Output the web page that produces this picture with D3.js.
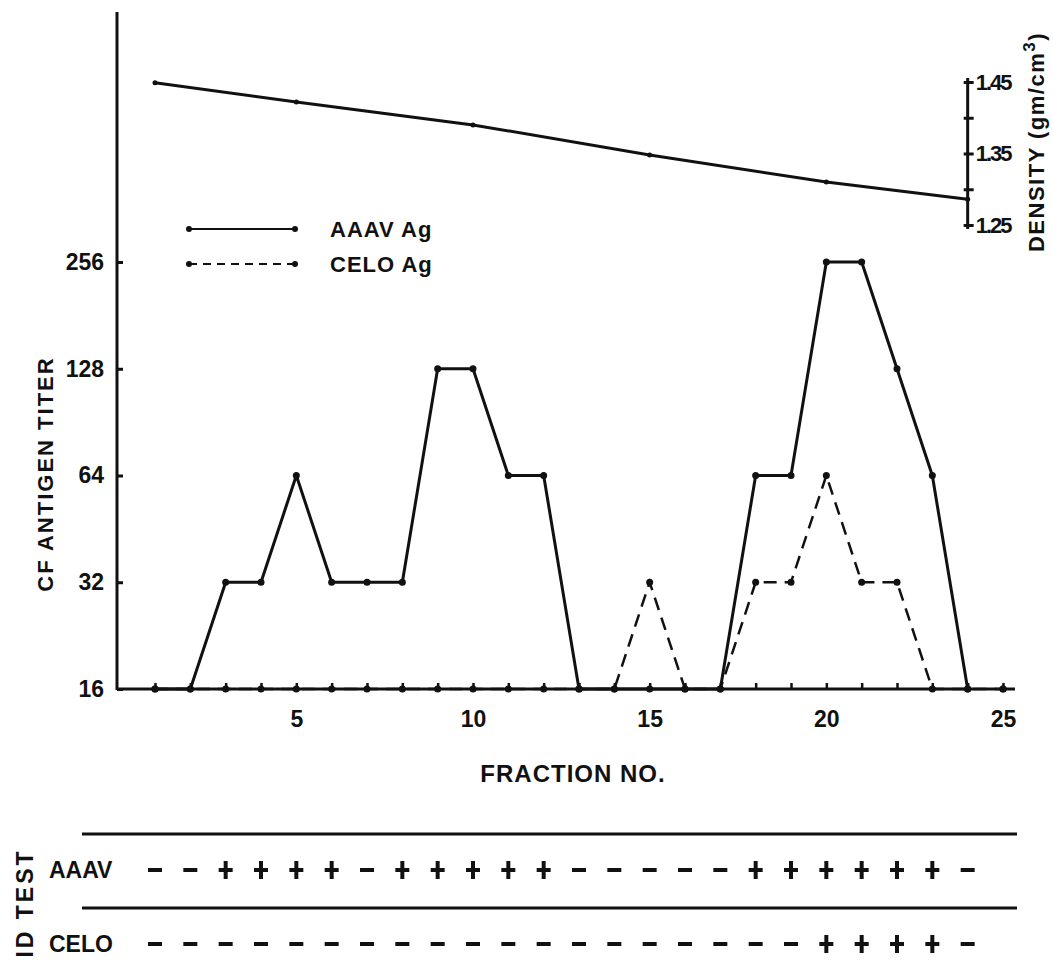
<!DOCTYPE html>
<html>
<head>
<meta charset="utf-8">
<script src="https://cdn.jsdelivr.net/npm/d3@7"></script>
<style>
  body { margin: 0; background: #fff; }
  svg { display: block; }
  text { font-family: "Liberation Sans", Arial, sans-serif; font-weight: bold; fill: #111; }
</style>
</head>
<body>
<svg id="svg1" width="1053" height="974"></svg>
<script>
var width = 1053;
var height = 974;

// fractions 1..25
var fractions = d3.range(1, 26);
var aaavTiter = [16,16,32,32,64,32,32,32,128,128,64,64,16,16,16,16,16,64,64,256,256,128,64,16,16];
var celoTiter = [16,16,16,16,16,16,16,16,16,16,16,16,16,16,32,16,16,32,32,64,32,32,16,16,16];
var titerTicks = [16, 32, 64, 128, 256];
var fractionLabels = [5, 10, 15, 20, 25];

// density gradient
var densityFractions = [1, 5, 10, 15, 20, 24];
var densityValues = [1.449, 1.422, 1.390, 1.348, 1.310, 1.286];
var densityTicks = [1.25, 1.30, 1.35, 1.40, 1.45];
var densityLabels = ['1.25', '', '1.35', '', '1.45'];

// ID test rows (fractions 1..24)
var aaavTest = ['-','-','+','+','+','+','-','+','+','+','+','+','-','-','-','-','-','+','+','+','+','+','+','-'];
var celoTest = ['-','-','-','-','-','-','-','-','-','-','-','-','-','-','-','-','-','-','-','+','+','+','+','-'];

var svg1 = d3.select('#svg1');

var x = d3.scaleLinear().domain([1, 25]).range([155, 1003]);
var y = d3.scaleLog().base(2).domain([16, 256]).range([689, 262]);
var yD = d3.scaleLinear().domain([1.25, 1.45]).range([225, 82]);

var axisLeftX = 117;
var baseY = y(16);

//left axis, drawn long up to the top
svg1.append('line')
    .attr('x1', axisLeftX).attr('x2', axisLeftX)
    .attr('y1', 12).attr('y2', baseY + 1)
    .attr('stroke', '#111').attr('stroke-width', 3);

var gLeft = svg1.append('g')
    .attr('transform', 'translate(' + axisLeftX + ',0)')
    .call(d3.axisLeft(y).tickValues(titerTicks).tickFormat(d3.format('d')).tickSize(-6).tickPadding(13));
gLeft.select('.domain').remove();
gLeft.selectAll('line').attr('stroke', '#111').attr('stroke-width', 3);
gLeft.selectAll('text').attr('font-size', 23).style('font-family', '"Liberation Sans", Arial, sans-serif').style('font-weight', 'bold');

//baseline
svg1.append('line')
    .attr('x1', axisLeftX).attr('x2', 1015)
    .attr('y1', baseY).attr('y2', baseY)
    .attr('stroke', '#111').attr('stroke-width', 3);

var gBottom = svg1.append('g')
    .attr('transform', 'translate(0,' + baseY + ')')
    .call(d3.axisBottom(x).tickValues(fractions).tickSize(-6).tickPadding(22)
        .tickFormat(function(d){ return fractionLabels.indexOf(d) >= 0 ? d : ''; }));
gBottom.select('.domain').remove();
gBottom.selectAll('line').attr('stroke', '#111').attr('stroke-width', 2.5);
gBottom.selectAll('text').attr('font-size', 23).style('font-family', '"Liberation Sans", Arial, sans-serif').style('font-weight', 'bold');

svg1.append('text')
    .attr('x', 573).attr('y', 782)
    .attr('text-anchor', 'middle')
    .attr('font-size', 24)
    .attr('letter-spacing', 1)
    .text('FRACTION NO.');

svg1.append('text')
    .attr('transform', 'translate(53,' + 474 + ') rotate(-90)')
    .attr('text-anchor', 'middle')
    .attr('font-size', 22)
    .attr('letter-spacing', 2)
    .text('CF ANTIGEN TITER');

//density axis on the right
var densX = x(24);
svg1.append('line')
    .attr('x1', densX).attr('x2', densX)
    .attr('y1', 78).attr('y2', 229)
    .attr('stroke', '#111').attr('stroke-width', 3);

var gRight = svg1.append('g')
    .attr('transform', 'translate(' + densX + ',0)')
    .call(d3.axisRight(yD).tickValues(densityTicks).tickSize(6).tickPadding(2)
        .tickFormat(function(d, i){ return densityLabels[i]; }));
gRight.select('.domain').remove();
gRight.selectAll('line').attr('stroke', '#111').attr('stroke-width', 3).attr('x1', -4);
gRight.selectAll('text').attr('font-size', 22).style('font-family', '"Liberation Sans", Arial, sans-serif').style('font-weight', 'bold').attr('letter-spacing', -2);

svg1.append('text')
    .attr('transform', 'translate(1044,' + 142 + ') rotate(-90)')
    .attr('text-anchor', 'middle')
    .attr('font-size', 22)
    .attr('letter-spacing', 1.5)
    .html('DENSITY (gm/cm<tspan dy="-9" font-size="17">3</tspan><tspan dy="9">)</tspan>');

var densityData = densityFractions.map(function(f, i){ return {f: f, v: densityValues[i]}; });

svg1.append('path')
    .datum(densityData)
    .attr('fill', 'none')
    .attr('stroke', '#111')
    .attr('stroke-width', 3)
    .attr('d', d3.line()
        .x(function(d){ return x(d.f); })
        .y(function(d){ return yD(d.v); }));

svg1.selectAll('.densDot')
    .data(densityData)
    .enter()
    .append('circle')
    .attr('class', 'densDot')
    .attr('cx', function(d){ return x(d.f); })
    .attr('cy', function(d){ return yD(d.v); })
    .attr('r', 2.5)
    .attr('fill', '#111');

// titer lines
var titerLine = d3.line()
    .x(function(d){ return x(d.f); })
    .y(function(d){ return y(d.v); });

var aaavData = fractions.map(function(f, i){ return {f: f, v: aaavTiter[i]}; });
var celoData = fractions.map(function(f, i){ return {f: f, v: celoTiter[i]}; });

svg1.append('path')
    .datum(celoData)
    .attr('fill', 'none')
    .attr('stroke', '#111')
    .attr('stroke-width', 2.5)
    .attr('stroke-dasharray', '13,8')
    .attr('d', titerLine);

svg1.append('path')
    .datum(aaavData.slice(0, 24))
    .attr('fill', 'none')
    .attr('stroke', '#111')
    .attr('stroke-width', 3)
    .attr('stroke-linejoin', 'round')
    .attr('d', titerLine);

svg1.selectAll('.celoDot')
    .data(celoData)
    .enter()
    .append('circle')
    .attr('class', 'celoDot')
    .attr('cx', function(d){ return x(d.f); })
    .attr('cy', function(d){ return y(d.v); })
    .attr('r', 3.5)
    .attr('fill', '#111');

svg1.selectAll('.aaavDot')
    .data(aaavData)
    .enter()
    .append('circle')
    .attr('class', 'aaavDot')
    .attr('cx', function(d){ return x(d.f); })
    .attr('cy', function(d){ return y(d.v); })
    .attr('r', 3.5)
    .attr('fill', '#111');

// legend
var legend = [
    {name: 'AAAV Ag', dash: null, y: 229},
    {name: 'CELO Ag', dash: '8,6', y: 264}
];
var lg = svg1.selectAll('.legend')
    .data(legend)
    .enter()
    .append('g')
    .attr('class', 'legend')
    .attr('transform', function(d){ return 'translate(0,' + d.y + ')'; });
lg.append('line')
    .attr('x1', 189).attr('x2', 295)
    .attr('stroke', '#111')
    .attr('stroke-width', 2)
    .attr('stroke-dasharray', function(d){ return d.dash; });
lg.append('circle').attr('cx', 189).attr('r', 3).attr('fill', '#111');
lg.append('circle').attr('cx', 295).attr('r', 3).attr('fill', '#111');
lg.append('text')
    .attr('x', 330).attr('y', 8)
    .attr('font-size', 22)
    .attr('letter-spacing', 1)
    .text(function(d){ return d.name; });

// ID test table
[834, 908].forEach(function(ly){
    svg1.append('line')
        .attr('x1', 82).attr('x2', 1017)
        .attr('y1', ly).attr('y2', ly)
        .attr('stroke', '#111').attr('stroke-width', 3);
});

svg1.append('text')
    .attr('transform', 'translate(33,903) rotate(-90)')
    .attr('text-anchor', 'middle')
    .attr('font-size', 23)
    .attr('letter-spacing', 3)
    .text('ID TEST');

var rows = [
    {name: 'AAAV', vals: aaavTest, y: 870},
    {name: 'CELO', vals: celoTest, y: 944}
];

rows.forEach(function(r){
    svg1.append('text')
        .attr('x', 49).attr('y', r.y + 8)
        .attr('font-size', 23)
        .text(r.name);
    var g = svg1.append('g').attr('transform', 'translate(0,' + r.y + ')');
    g.selectAll('.h')
        .data(r.vals)
        .enter()
        .append('line')
        .attr('x1', function(d, i){ return x(i + 1) - 7; })
        .attr('x2', function(d, i){ return x(i + 1) + 7; })
        .attr('stroke', '#111').attr('stroke-width', 4);
    g.selectAll('.v')
        .data(r.vals.map(function(d, i){ return {s: d, f: i + 1}; }).filter(function(d){ return d.s == '+'; }))
        .enter()
        .append('line')
        .attr('x1', function(d){ return x(d.f); })
        .attr('x2', function(d){ return x(d.f); })
        .attr('y1', -9).attr('y2', 9)
        .attr('stroke', '#111').attr('stroke-width', 4);
});
</script>
</body>
</html>
